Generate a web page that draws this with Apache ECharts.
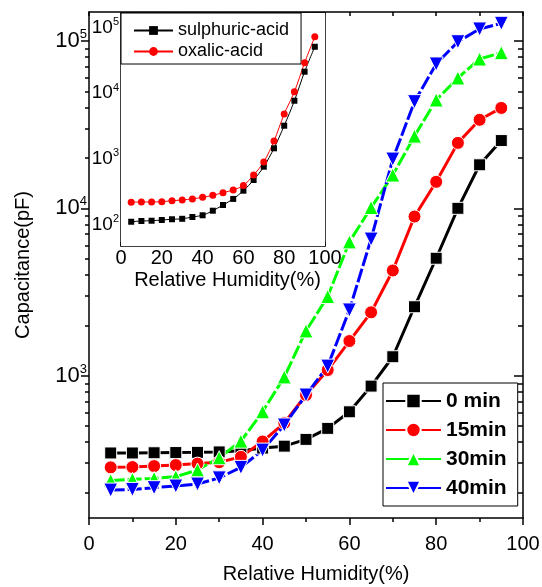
<!DOCTYPE html>
<html><head><meta charset="utf-8">
<script src="https://cdn.jsdelivr.net/npm/echarts@6/dist/echarts.min.js"></script>
<style>html,body{margin:0;padding:0;background:#fff}#c{width:542px;height:587px}</style>
</head><body><div id="c"></div>
<script>
const rh = [5,10,15,20,25,30,35,40,45,50,55,60,65,70,75,80,85,90,95];
const c0min  = [345,345,346,347,348,350,356,369,379,416,484,608,866,1297,2580,5030,10000,18200,25400];
const c15min = [283,284,288,292,298,304,327,404,521,766,1080,1610,2390,4250,8930,14400,24600,33800,39800];
const c30min = [236,240,243,249,273,323,406,608,982,1850,2970,6300,10100,15800,27000,44400,60100,78000,85100];
const c40min = [207,209,214,219,225,245,283,359,507,766,1140,2470,6550,19700,43400,72900,99000,118000,127600];
const sulphuric = [110,113,114,117,120,122,130,138,162,198,245,327,475,758,1445,3190,7660,21200,50800];
const oxalic = [218,220,220,222,230,236,245,259,278,305,335,392,566,893,1866,4810,10500,29000,72100];
const mainSeriesNames = ['0 min','15min','30min','40min'];
const insetSeriesNames = ['sulphuric-acid','oxalic-acid'];
const mainMajor = [1000,10000,100000];
const mainMinor = [200,300,400,500,600,700,800,900,2000,3000,4000,5000,6000,7000,8000,9000,20000,30000,40000,50000,60000,70000,80000,90000];
const insetMajor = [100,1000,10000,100000];
const insetMinor = [50,60,70,80,90,200,300,400,500,600,700,800,900,2000,3000,4000,5000,6000,7000,8000,9000,20000,30000,40000,50000,60000,70000,80000,90000];
const xTitle = 'Relative Humidity(%)';
const yTitle = 'Capacitance(pF)';

const FF = 'Liberation Sans, Arial, sans-serif';
const chart = echarts.init(document.getElementById('c'), null, {renderer:'canvas'});
function pair(a){ return rh.map((x,i)=>[x,a[i]]); }
function expFmt(v){ const e = Math.round(Math.log10(v)); return '{b|10}{s|' + e + '}'; }
const MAIN_MIN = 141, MAIN_MAX = 149000, IN_MIN = 47, IN_MAX = 166000;
const line = {color:'#000', width:1.5};

function yAxes(gridIndex, min, max, major, minor, opts){
  const base = {type:'log', gridIndex, min, max, splitLine:{show:false}, minorTick:{show:false}, minorSplitLine:{show:false}};
  return [
    Object.assign({}, base, {position:'left', axisLine:{show:true, lineStyle:line},
      axisTick:{show:true, inside:opts.inside, length:opts.majL, lineStyle:line, customValues:major},
      axisLabel:{show:true, customValues:major, margin:opts.margin, formatter:expFmt, color:'#000', rich:opts.rich},
      name: opts.name || '', nameLocation:'middle', nameGap: opts.nameGap || 0,
      nameTextStyle:{fontSize:20, fontFamily:FF, color:'#000', padding:[0,0,0,0]}}),
    Object.assign({}, base, {position:'left', axisLine:{show:false},
      axisTick:{show:true, inside:opts.inside, length:opts.minL, lineStyle:line, customValues:minor},
      axisLabel:{show:false}}),
    Object.assign({}, base, {position:'right', axisLine:{show:true, lineStyle:line},
      axisTick:{show:true, inside:true, length:opts.rmajL, lineStyle:line, customValues:major},
      axisLabel:{show:false}}),
    Object.assign({}, base, {position:'right', axisLine:{show:false},
      axisTick:{show:true, inside:true, length:opts.rminL, lineStyle:line, customValues:minor},
      axisLabel:{show:false}})
  ];
}

const mainRich = {b:{fontSize:22, fontFamily:FF, color:'#000'}, s:{fontSize:13, fontFamily:FF, color:'#000', verticalAlign:'bottom', padding:[0,0,13,0]}};
const inRich = {b:{fontSize:19, fontFamily:FF, color:'#000'}, s:{fontSize:11, fontFamily:FF, color:'#000', verticalAlign:'bottom', padding:[0,0,11,0]}};

const yA = yAxes(0, MAIN_MIN, MAIN_MAX, mainMajor, mainMinor, {inside:false, majL:8, minL:4, rmajL:9, rminL:5, margin:2, rich:mainRich, name:yTitle, nameGap:56})
  .concat(yAxes(1, IN_MIN, IN_MAX, insetMajor, insetMinor, {inside:true, majL:4, minL:2, rmajL:4, rminL:2, margin:2, rich:inRich}));

const xA = [
  {type:'value', gridIndex:0, position:'bottom', min:0, max:100, interval:20,
   axisLine:{show:true, lineStyle:line}, axisTick:{show:true, length:7, lineStyle:line},
   minorTick:{show:true, splitNumber:2, length:4, lineStyle:line}, splitLine:{show:false}, minorSplitLine:{show:false},
   axisLabel:{fontSize:20, fontFamily:FF, color:'#000', margin:16},
   name:xTitle, nameLocation:'middle', nameGap:46, nameTextStyle:{fontSize:20, fontFamily:FF, color:'#000', padding:[0,0,0,20]}},
  {type:'value', gridIndex:0, position:'top', min:0, max:100, interval:20,
   axisLine:{show:true, lineStyle:line}, axisTick:{show:true, inside:true, length:4, lineStyle:line},
   minorTick:{show:true, splitNumber:2, length:4, lineStyle:line}, splitLine:{show:false}, minorSplitLine:{show:false},
   axisLabel:{show:false}},
  {type:'value', gridIndex:1, position:'bottom', min:0, max:100, interval:20,
   axisLine:{show:true, lineStyle:line}, axisTick:{show:true, inside:true, length:4, lineStyle:line},
   minorTick:{show:true, splitNumber:2, length:2, lineStyle:line}, splitLine:{show:false}, minorSplitLine:{show:false},
   axisLabel:{fontSize:20, fontFamily:FF, color:'#000', margin:2},
   name:xTitle, nameLocation:'middle', nameGap:24, nameTextStyle:{fontSize:20, fontFamily:FF, color:'#000', padding:[0,0,0,9]}},
  {type:'value', gridIndex:1, position:'top', min:0, max:100, interval:20,
   axisLine:{show:true, lineStyle:line}, axisTick:{show:false}, axisLabel:{show:false}, splitLine:{show:false}}
];

function mainSeries(name, data, color, symbol, size, rot, dashed){
  return {type:'line', name, data:pair(data), xAxisIndex:0, yAxisIndex:0, symbol, symbolSize:size, symbolRotate:rot,
    lineStyle:{color, width:3, type: dashed ? [14,3] : 'solid'},
    itemStyle:{color, borderColor:'#fff', borderWidth:1}, z:5, animation:false};
}
function insetSeries(name, data, color, symbol, size){
  return {type:'line', name, data:pair(data), xAxisIndex:2, yAxisIndex:4, symbol, symbolSize:size, smooth:0.3,
    lineStyle:{color, width:1}, itemStyle:{color}, z:6, animation:false};
}

chart.setOption({
  backgroundColor:'#fff',
  animation:false,
  textStyle:{fontFamily:FF},
  grid:[
    {left:89, right:19, top:12, bottom:69, containLabel:false, outerBoundsMode:'none'},
    {left:121, right:217, top:13, bottom:341, containLabel:false, outerBoundsMode:'none', show:true, backgroundColor:'#fff', borderWidth:0, z:3}
  ],
  xAxis:xA,
  yAxis:yA,
  legend:[
    {data:mainSeriesNames, orient:'vertical', left:383, top:383, padding:[7,11,7,2], itemWidth:55, itemHeight:18, itemGap:7,
     borderColor:'#000', borderWidth:1, backgroundColor:'#fff', lineStyle:{type:'solid'},
     textStyle:{fontSize:21, fontWeight:'bold', lineHeight:22, fontFamily:FF, color:'#000'}},
    {data:insetSeriesNames, orient:'vertical', left:121, top:13, padding:[7,12,2,12], itemWidth:39, itemHeight:11, itemGap:0,
     borderColor:'#000', borderWidth:1, backgroundColor:'#fff', lineStyle:{type:'solid'},
     textStyle:{fontSize:18, lineHeight:21, fontFamily:FF, color:'#000'}}
  ],
  series:[
    mainSeries('0 min', c0min, '#000000', 'rect', 12, 0, false),
    mainSeries('15min', c15min, '#ff0000', 'circle', 13, 0, false),
    mainSeries('30min', c30min, '#00ff00', 'triangle', 14, 0, true),
    mainSeries('40min', c40min, '#0000ff', 'triangle', 14, 180, true),
    insetSeries('sulphuric-acid', sulphuric, '#000000', 'rect', 6),
    insetSeries('oxalic-acid', oxalic, '#ff0000', 'circle', 7)
  ]
});
</script></body></html>
